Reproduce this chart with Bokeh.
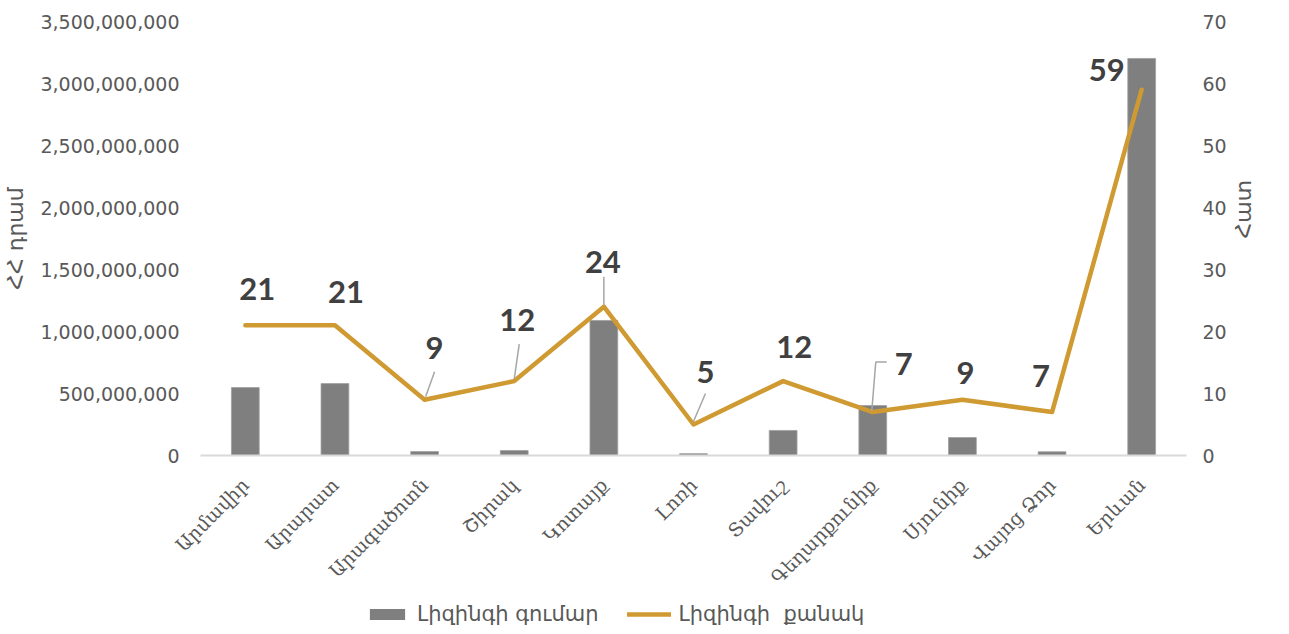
from bokeh.plotting import figure
from bokeh.layouts import column
from bokeh.models import (Range1d, LinearAxis, ColumnDataSource, Legend, LegendItem,
                          NumeralTickFormatter, FixedTicker, CustomJSTickFormatter)
from bokeh.core.properties import value
from bokeh.embed import file_html
from bokeh.resources import INLINE
import math

# ---- data ----
regions = ["Արմավիր", "Արարատ", "Արագածոտն", "Շիրակ", "Կոտայք", "Լոռի",
           "Տավուշ", "Գեղարքունիք", "Սյունիք", "Վայոց Ձոր", "Երևան"]
lease_amount = [548e6, 580e6, 32e6, 40e6, 1089e6, 15e6, 202e6, 403e6, 145e6, 30e6, 3202e6]
lease_count = [21, 21, 9, 12, 24, 5, 12, 7, 9, 7, 59]

left_ticks = [0, 500e6, 1000e6, 1500e6, 2000e6, 2500e6, 3000e6, 3500e6]
right_ticks = [0, 10, 20, 30, 40, 50, 60, 70]

series_names = ["Լիզինգի գումար", "Լիզինգի  քանակ"]

# ---- styling (label offsets in screen pixels) ----
label_dx = [12, 11, 10, 3, -1, 12, 11, 31, 3, -11, -35]
label_dy = [-36, -33, -52, -61, -45, -53, -34, -48, -27, -36, -20]
# leader lines: (region index, list of pixel offsets from point)
leaders = [
    (2, [(1, -3), (10, -28)]),
    (3, [(0, -2), (5, -37)]),
    (4, [(0, -2), (0, -30)]),
    (5, [(0, -3), (12, -31)]),
    (7, [(-1, -1), (3, -50), (14, -50)]),
]

BAR = "#7f7f7f"
LINE = "#D09A32"
TXT = "#595959"

W, H = 1273, 600
FL, FR, FT, FB = 199, 87, 21, 145
frame_w = W - FL - FR
frame_h = H - FT - FB

n = len(regions)
xpos = [i + 0.5 for i in range(n)]

p = figure(width=W, height=H, output_backend="svg", toolbar_location=None,
           x_range=Range1d(0, n), y_range=Range1d(0, 3.5e9),
           min_border_left=FL, min_border_right=FR, min_border_top=FT, min_border_bottom=FB)
p.extra_y_ranges = {"cnt": Range1d(0, 70)}
p.outline_line_color = None
p.xgrid.visible = False
p.ygrid.visible = False

bsrc = ColumnDataSource(dict(x=xpos, top=lease_amount))
p.vbar(x="x", top="top", source=bsrc, width=0.31, fill_color=BAR,
       line_color="#a0a0a0", line_width=0.8)

src = ColumnDataSource(dict(x=xpos, y=lease_count,
                            t=[str(v) for v in lease_count], dx=label_dx, dy=label_dy))
p.line("x", "y", source=src, y_range_name="cnt",
       line_color=LINE, line_width=4.5, line_join="round", line_cap="round")

# leader lines
px_x = n / frame_w
px_y = 70 / frame_h
for idx, pts in leaders:
    xs = [xpos[idx] + dx * px_x for dx, dy in pts]
    ys = [lease_count[idx] - dy * px_y for dx, dy in pts]
    p.line(xs, ys, y_range_name="cnt", line_color="#a6a6a6", line_width=1.5)

p.text("x", "y", text="t", source=src, y_range_name="cnt",
       x_offset="dx", y_offset="dy", text_align="center", text_baseline="middle",
       text_font=value("Lato"), text_font_style="bold", text_font_size="31px", text_color="#404040")

# axes
def no_ticks(ax):
    ax.major_tick_out = 0
    ax.major_tick_in = 0
    ax.minor_tick_out = 0
    ax.minor_tick_in = 0
    ax.major_tick_line_color = None
    ax.minor_tick_line_color = None

xa = p.xaxis[0]
xa.ticker = FixedTicker(ticks=xpos)
xa.formatter = CustomJSTickFormatter(args=dict(labels=regions),
                                     code="return labels[Math.floor(tick)];")
xa.axis_line_color = "#d9d9d9"
xa.axis_line_width = 2
no_ticks(xa)
xa.major_label_orientation = math.pi / 4
xa.major_label_text_font = "DejaVu Serif"
xa.major_label_text_font_size = "19px"
xa.major_label_text_color = TXT
xa.major_label_standoff = 26

ya = p.yaxis[0]
ya.ticker = FixedTicker(ticks=left_ticks)
ya.formatter = NumeralTickFormatter(format="0,0")
ya.axis_line_color = None
no_ticks(ya)
ya.major_label_text_font = "DejaVu Sans"
ya.major_label_text_font_size = "19px"
ya.major_label_text_color = TXT
ya.major_label_standoff = 21
ya.axis_label = "ՀՀ դրամ"
ya.axis_label_text_font = "DejaVu Sans"
ya.axis_label_text_font_size = "22px"
ya.axis_label_text_font_style = "normal"
ya.axis_label_text_color = TXT
ya.axis_label_standoff = 9

ra = LinearAxis(y_range_name="cnt", ticker=FixedTicker(ticks=right_ticks))
ra.axis_line_color = None
no_ticks(ra)
ra.major_label_text_font = "DejaVu Sans"
ra.major_label_text_font_size = "19px"
ra.major_label_text_color = TXT
ra.major_label_standoff = 16
ra.axis_label = "Հատ"
ra.axis_label_orientation = math.pi / 2
ra.axis_label_text_font = "DejaVu Sans"
ra.axis_label_text_font_size = "22px"
ra.axis_label_text_font_style = "normal"
ra.axis_label_text_color = TXT
ra.axis_label_standoff = 14
p.add_layout(ra, "right")

# ---- legend strip ----
lf = figure(width=W, height=26, output_backend="svg", toolbar_location=None,
            x_range=Range1d(0, 1), y_range=Range1d(0, 1),
            x_axis_type=None, y_axis_type=None,
            min_border_left=FL, min_border_right=FR, min_border_top=0, min_border_bottom=0)
lf.outline_line_color = None
lf.xgrid.visible = False
lf.ygrid.visible = False
r_bar = lf.vbar(x=[5], top=[5], bottom=[4], width=0.1, fill_color=BAR, line_color=None)
r_line = lf.line(x=[5, 6], y=[5, 5], line_color=LINE, line_width=4.5, line_cap="round")
legend = Legend(items=[LegendItem(label=series_names[0], renderers=[r_bar]),
                       LegendItem(label=series_names[1], renderers=[r_line])],
                orientation="horizontal", location=(165, 0),
                label_text_font="DejaVu Sans", label_text_font_size="21px", label_text_color=TXT,
                glyph_width=44, glyph_height=14, label_standoff=8, spacing=28,
                padding=0, margin=0, border_line_color=None, background_fill_alpha=0)
lf.add_layout(legend, "center")

open("out.html", "w").write(file_html(column(p, lf, spacing=0), INLINE))
